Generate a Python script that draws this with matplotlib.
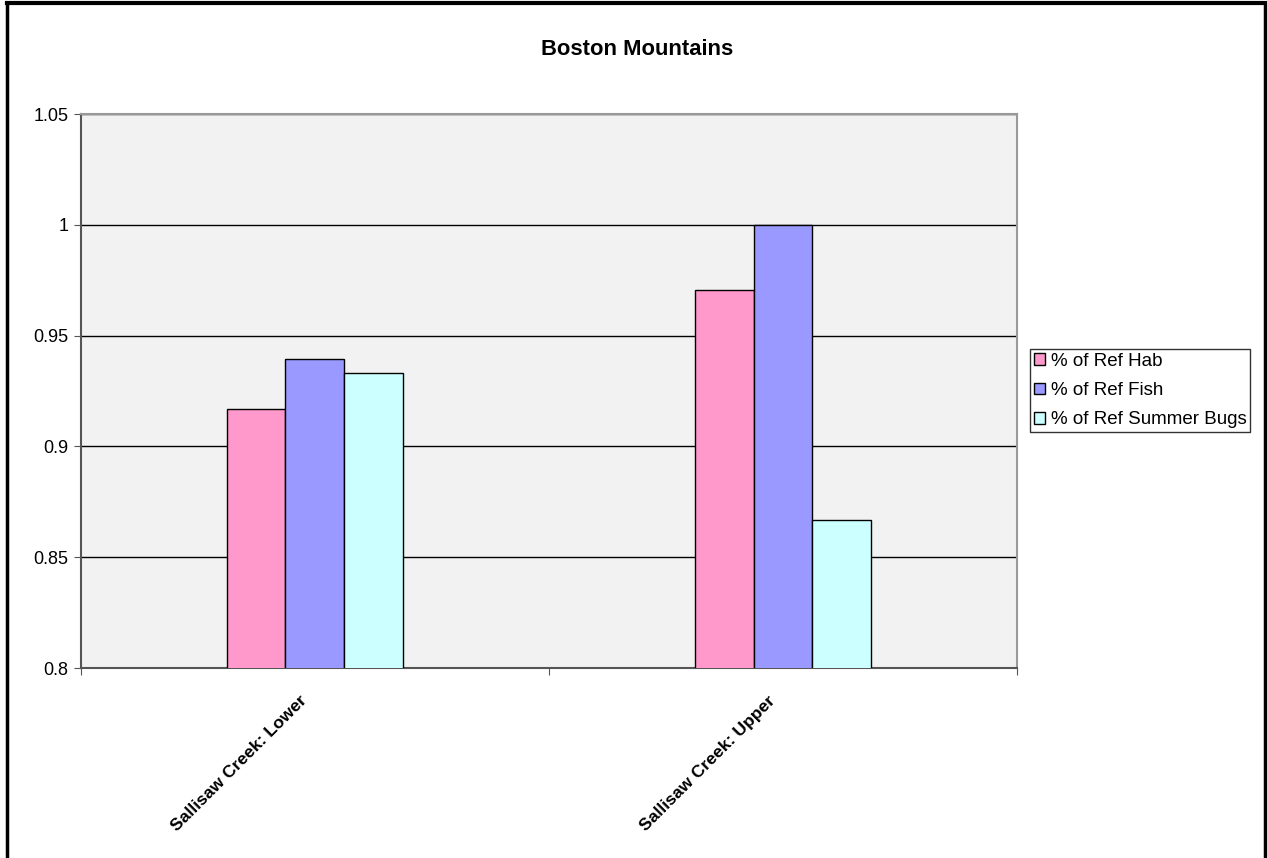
import numpy as np
import matplotlib
matplotlib.use('Agg')
import matplotlib.pyplot as plt
from matplotlib.lines import Line2D
from matplotlib.ticker import FuncFormatter
from matplotlib.transforms import ScaledTranslation

plt.rcParams['font.family'] = ['Liberation Sans', 'DejaVu Sans']

# データ
sites = ["Sallisaw Creek: Lower", "Sallisaw Creek: Upper"]
series_names = ["% of Ref Hab", "% of Ref Fish", "% of Ref Summer Bugs"]
ref_hab = [0.9167, 0.9706]
ref_fish = [0.9394, 1.0]
ref_bugs = [0.9333, 0.8667]
colors = ["#FF99CC", "#9999FF", "#CCFFFF"]

fig = plt.figure(figsize=(12.67, 8.58), dpi=100)
ax = fig.add_axes([0.0639, 0.2214, 0.7388, 0.6457])
ax.set_facecolor('#f2f2f2')

x = np.arange(len(sites))
w = 0.126
for i, (vals, name, c) in enumerate(zip([ref_hab, ref_fish, ref_bugs], series_names, colors)):
    ax.bar(x + (i - 1) * w, vals, width=w, color=c, edgecolor='black', linewidth=1.0,
           label=name, zorder=3)

ax.set_xlim(-0.5, 1.5)
ax.set_ylim(0.8, 1.05)
ax.set_yticks([0.8, 0.85, 0.9, 0.95, 1.0, 1.05])
ax.yaxis.set_major_formatter(FuncFormatter(lambda v, p: f"{v:g}"))
ax.grid(axis='y', color='black', linewidth=1.0, zorder=1)
ax.set_axisbelow(True)

# 区切りの目盛り
ax.set_xticks([-0.5, 0.5, 1.5])
ax.set_xticklabels([])
ax.set_xticks(x, minor=True)
ax.set_xticklabels(sites, minor=True, rotation=45, ha='right', rotation_mode='anchor',
                   fontsize=12.6, fontweight='bold')
ax.tick_params(axis='x', which='minor', length=0, pad=18)
ax.tick_params(axis='x', which='major', length=5, direction='out', color='#555555')
ax.tick_params(axis='y', length=5, direction='out', labelsize=13, color='#555555', pad=4)
for lab in ax.get_xticklabels(minor=True):
    lab.set_transform(lab.get_transform() + ScaledTranslation(-0.16, 0, fig.dpi_scale_trans))

for s in ['top', 'right']:
    ax.spines[s].set_color('#999999')
    ax.spines[s].set_linewidth(1.5)
for s in ['left', 'bottom']:
    ax.spines[s].set_color('#555555')
    ax.spines[s].set_linewidth(1.5)

fig.text(0.5025, 0.942, "Boston Mountains", ha='center', va='center', fontsize=15.8, fontweight='bold')

leg = ax.legend(loc='upper left', bbox_to_anchor=(0.813, 0.593), bbox_transform=fig.transFigure,
                borderaxespad=0, frameon=True, fancybox=False, fontsize=13.5,
                handlelength=0.6, handleheight=0.6, handletextpad=0.3, labelspacing=0.65,
                borderpad=0.2)
leg.get_frame().set_edgecolor('black')
leg.get_frame().set_linewidth(1.0)

# 外枠
fig.add_artist(Line2D([0.0055, 0.9985], [0.996, 0.996], color='black', linewidth=3, transform=fig.transFigure))
fig.add_artist(Line2D([0.0055, 0.0055], [0.0, 0.996], color='black', linewidth=2.5, transform=fig.transFigure))
fig.add_artist(Line2D([0.9985, 0.9985], [0.0, 0.996], color='black', linewidth=2.5, transform=fig.transFigure))

fig.savefig('out.png', dpi=100, facecolor='white')
